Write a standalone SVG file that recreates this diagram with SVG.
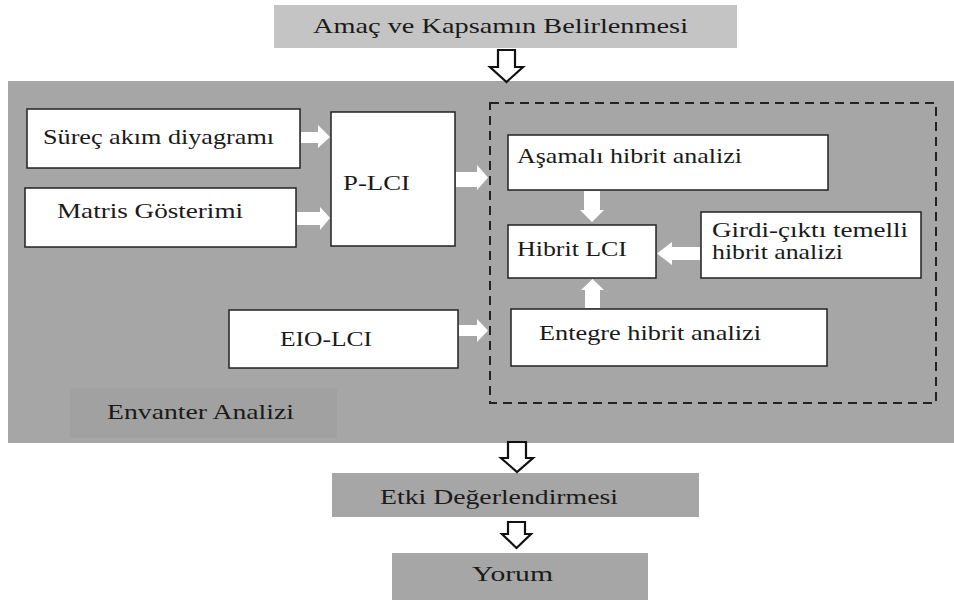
<svg xmlns="http://www.w3.org/2000/svg" width="954" height="601" viewBox="0 0 954 601">
  <style>
    .box { fill: #ffffff; stroke: #222222; stroke-width: 1.5; }
    .stage { stroke: none; }
    .t { font-family: "Liberation Serif", "Times New Roman", serif; font-size: 21.5px; fill: #1a1a1a; }
    .hollow { fill: #ffffff; stroke: #111111; stroke-width: 2.2; stroke-linejoin: miter; }
    .solid { fill: #ffffff; stroke: none; }
    .dash { fill: none; stroke: #222222; stroke-width: 2; stroke-dasharray: 9 6; }
  </style>

  <rect x="0" y="0" width="954" height="601" fill="#ffffff"/>

  <!-- Inventory analysis panel -->
  <g id="envanter-panel">
    <rect x="8" y="81" width="946" height="362" fill="#a6a6a6"/>
    <rect x="70" y="388" width="267" height="50" fill="#a1a1a1"/>
    <text class="t" x="107" y="419" textLength="187" lengthAdjust="spacingAndGlyphs">Envanter Analizi</text>
  </g>

  <!-- Stage boxes -->
  <g id="amac">
    <rect class="stage" x="274" y="5" width="463" height="43" fill="#c4c4c4"/>
    <text class="t" x="313" y="33" textLength="375" lengthAdjust="spacingAndGlyphs">Amaç ve Kapsamın Belirlenmesi</text>
  </g>
  <g id="etki">
    <rect class="stage" x="332" y="473" width="367" height="44" fill="#a6a6a6"/>
    <text class="t" x="380" y="504" textLength="238" lengthAdjust="spacingAndGlyphs">Etki Değerlendirmesi</text>
  </g>
  <g id="yorum">
    <rect class="stage" x="392" y="553" width="256" height="47" fill="#a6a6a6"/>
    <text class="t" x="472" y="581" textLength="81" lengthAdjust="spacingAndGlyphs">Yorum</text>
  </g>

  <!-- Hybrid analysis group -->
  <g id="hibrit-grup">
    <rect class="dash" x="490" y="103" width="446" height="300"/>
  </g>

  <!-- Nodes -->
  <g id="surec">
    <rect class="box" x="27" y="109" width="273" height="59"/>
    <text class="t" x="43" y="144" textLength="231" lengthAdjust="spacingAndGlyphs">Süreç akım diyagramı</text>
  </g>
  <g id="matris">
    <rect class="box" x="25" y="188" width="271" height="59"/>
    <text class="t" x="57" y="218" textLength="186" lengthAdjust="spacingAndGlyphs">Matris Gösterimi</text>
  </g>
  <g id="p-lci">
    <rect class="box" x="331" y="112" width="124" height="134"/>
    <text class="t" x="343" y="190" textLength="67" lengthAdjust="spacingAndGlyphs">P-LCI</text>
  </g>
  <g id="eio-lci">
    <rect class="box" x="229" y="310" width="229" height="58"/>
    <text class="t" x="280" y="346" textLength="92" lengthAdjust="spacingAndGlyphs">EIO-LCI</text>
  </g>
  <g id="asamali">
    <rect class="box" x="508" y="135" width="320" height="55"/>
    <text class="t" x="517" y="163" textLength="225" lengthAdjust="spacingAndGlyphs">Aşamalı hibrit analizi</text>
  </g>
  <g id="hibrit-lci">
    <rect class="box" x="508" y="225" width="148" height="53"/>
    <text class="t" x="517" y="256" textLength="110" lengthAdjust="spacingAndGlyphs">Hibrit LCI</text>
  </g>
  <g id="girdi-cikti">
    <rect class="box" x="701" y="212" width="220" height="66"/>
    <text class="t" x="712" y="237" textLength="196" lengthAdjust="spacingAndGlyphs">Girdi-çıktı temelli</text>
    <text class="t" x="712" y="259" textLength="131" lengthAdjust="spacingAndGlyphs">hibrit analizi</text>
  </g>
  <g id="entegre">
    <rect class="box" x="511" y="309" width="316" height="57"/>
    <text class="t" x="539" y="340" textLength="222" lengthAdjust="spacingAndGlyphs">Entegre hibrit analizi</text>
  </g>

  <!-- Connectors -->
  <g id="connectors">
    <!-- hollow stage arrows -->
    <polygon class="hollow" points="498,50 515,50 515,67 523,67 506.5,82 490,67 498,67"/>
    <polygon class="hollow" points="508,442 526,442 526,458 533,458 517,472 501,458 508,458"/>
    <polygon class="hollow" points="508,522 525,522 525,534 531,534 516.5,548 502,534 508,534"/>

    <!-- solid white block arrows -->
    <polygon class="solid" points="301,132 318,132 318,125 330,137 318,148 318,143 301,143"/>
    <polygon class="solid" points="297,212 320,212 320,207 330,218 320,230 320,225 297,225"/>
    <polygon class="solid" points="456,172 477,172 477,165 488,177.5 477,190 477,187 456,187"/>
    <polygon class="solid" points="459,325 477,325 477,319 488,330.5 477,342 477,336 459,336"/>
    <polygon class="solid" points="584,191 600,191 600,210 604,210 592,222 580,210 584,210"/>
    <polygon class="solid" points="700,247 672,247 672,242 657,253.5 672,265 672,260 700,260"/>
    <polygon class="solid" points="585,308 600,308 600,290 604,290 592.5,279 581,290 585,290"/>
  </g>
</svg>
